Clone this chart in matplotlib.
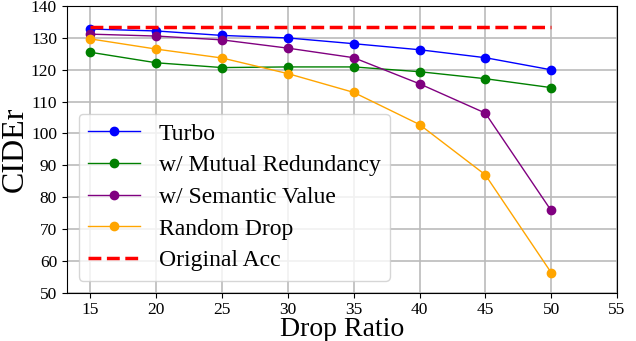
import numpy as np
import matplotlib.pyplot as plt

plt.rcParams['font.family'] = ['Liberation Serif', 'DejaVu Serif']

drop_ratio = [15, 20, 25, 30, 35, 40, 45, 50]
turbo = [132.8, 132.2, 130.8, 130.0, 128.2, 126.3, 123.8, 120.0]
mutual = [125.5, 122.2, 120.7, 120.9, 120.9, 119.4, 117.2, 114.4]
semantic = [131.2, 130.6, 129.4, 126.8, 123.8, 115.6, 106.4, 75.8]
random_drop = [129.7, 126.5, 123.7, 118.8, 112.9, 102.8, 87.0, 56.3]
original_acc = 133.4

fig, ax = plt.subplots(figsize=(6.36, 3.41), dpi=100)

ax.plot(drop_ratio, turbo, marker='o', color='blue', lw=1, ms=6, label='Turbo')
ax.plot(drop_ratio, mutual, marker='o', color='green', lw=1, ms=6, label='w/ Mutual Redundancy')
ax.plot(drop_ratio, semantic, marker='o', color='purple', lw=1, ms=6, label='w/ Semantic Value')
ax.plot(drop_ratio, random_drop, marker='o', color='orange', lw=1, ms=6, label='Random Drop')
ax.plot([drop_ratio[0], drop_ratio[-1]], [original_acc, original_acc], '--', color='red', lw=2.5, label='Original Acc')

ax.set_xlim(13.2, 55)
ax.set_ylim(50, 140)
ax.set_xticks(np.arange(15, 56, 5))
ax.set_yticks(np.arange(50, 141, 10))
ax.tick_params(labelsize=12.5)
ax.grid(True, color='#bbbbbb', lw=1.2)
ax.set_axisbelow(True)

ax.set_xlabel('Drop Ratio', fontsize=20, labelpad=-1)
ax.set_ylabel('CIDEr', fontsize=23, labelpad=1)

ax.legend(loc='lower left', fontsize=17, handlelength=2.2, labelspacing=0.43)

plt.subplots_adjust(left=0.105, right=0.97, top=0.982, bottom=0.142)
plt.savefig('out.png')
